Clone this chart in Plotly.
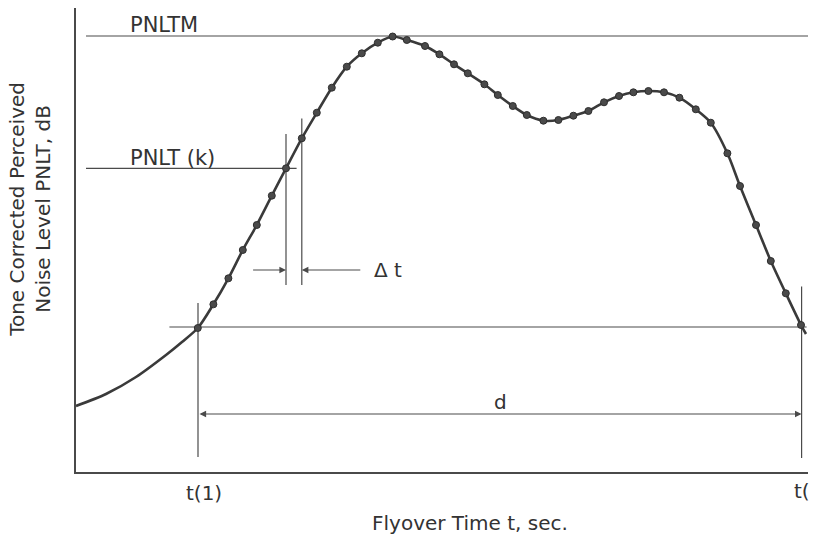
import plotly.graph_objects as go

# PNLT samples (flyover time s, PNLT dB)
t_samples = [6.09, 6.87, 7.62, 8.34, 9.04, 9.79, 10.5, 11.29, 12.04, 12.79,
             13.54, 14.29, 15.09, 15.83, 16.54, 17.45, 18.17, 18.9, 19.59, 20.42,
             21.09, 21.84, 22.54, 23.37, 24.12, 24.87, 25.62, 26.4, 27.15, 27.87,
             28.62, 29.4, 30.17, 30.99, 31.74, 32.57, 33.2, 34.0, 34.74, 35.49, 36.25]
pnlt_samples = [74.4, 76.77, 79.37, 82.2, 84.7, 87.63, 90.37, 93.37, 95.93, 98.43,
                100.53, 101.87, 102.93, 103.55, 103.2, 102.6, 101.77, 100.77, 99.87, 98.77,
                97.7, 96.6, 95.7, 95.13, 95.2, 95.63, 96.1, 96.97, 97.6, 97.97,
                98.1, 97.97, 97.43, 96.27, 94.93, 91.87, 88.6, 84.7, 81.1, 77.87, 74.7]

# un-sampled lead-in and tail of the curve
t_lead = [0.0, 1.5, 3.0, 4.5, 5.3]
pnlt_lead = [66.6, 67.8, 69.5, 71.7, 73.0]
t_tail = [36.5]
pnlt_tail = [73.8]

# reference levels and times
PNLTM = 103.6
PNLT_K = 90.37
THRESHOLD = 74.5
T1 = 6.1
TK = 10.5
TK1 = 11.29
TN = 36.28
D_LEVEL = 65.8
DT_LEVEL = 80.2

X_RANGE = [0, 36.6]
Y_RANGE = [60, 106.4]

LINE = "#4a4a4a"
CURVE = "#3a3a3a"
TXT = "#333333"
FONT = "DejaVu Sans"

fig = go.Figure()

def seg(x, y, w=1.2, c=LINE):
    fig.add_trace(go.Scatter(x=x, y=y, mode="lines", line=dict(color=c, width=w),
                             hoverinfo="skip", showlegend=False))

# reference lines
seg([0.5, X_RANGE[1]], [PNLTM, PNLTM])
seg([0.5, 11.03], [PNLT_K, PNLT_K])
seg([4.67, 36.53], [THRESHOLD, THRESHOLD])
seg([T1, T1], [76.9, 61.5])
seg([TK, TK], [93.8, 78.7])
seg([TK1, TK1], [95.35, 78.7])
seg([TN, TN], [78.55, 61.4])

# curve
fig.add_trace(go.Scatter(x=t_lead + t_samples + t_tail,
                         y=pnlt_lead + pnlt_samples + pnlt_tail,
                         mode="lines", line=dict(color=CURVE, width=2.6, shape="spline", smoothing=0.8),
                         hoverinfo="skip", showlegend=False))
fig.add_trace(go.Scatter(x=t_samples, y=pnlt_samples, mode="markers",
                         marker=dict(size=7, color="#4a4a4a", line=dict(color="#2e2e2e", width=1)),
                         hoverinfo="skip", showlegend=False))

ann = []
# arrows
arrow = dict(showarrow=True, arrowhead=2, arrowsize=1.1, arrowwidth=1.2, arrowcolor=LINE,
             axref="x", ayref="y", text="", standoff=0, startstandoff=0)
ann.append(dict(x=TK, y=DT_LEVEL, ax=8.78, ay=DT_LEVEL, **arrow))
ann.append(dict(x=TK1, y=DT_LEVEL, ax=14.29, ay=DT_LEVEL, **arrow))
ann.append(dict(x=TN, y=D_LEVEL, ax=T1, ay=D_LEVEL, arrowside="end+start", **arrow))

tf = dict(family=FONT, size=20, color=TXT)
lf = dict(family=FONT, size=21, color=TXT)
ann.append(dict(x=2.6, y=104.7, text="PNLTM", showarrow=False, xanchor="left", yanchor="middle", font=lf))
ann.append(dict(x=2.6, y=91.4, text="PNLT (k)", showarrow=False, xanchor="left", yanchor="middle", font=lf))
ann.append(dict(x=14.8, y=DT_LEVEL, text="Δ t", showarrow=False, xanchor="left", yanchor="middle", font=tf))
ann.append(dict(x=21.2, y=67.0, text="d", showarrow=False, xanchor="center", yanchor="middle", font=tf))
ann.append(dict(x=T1 + 0.3, y=-0.045, xref="x", yref="paper", text="t(1)", showarrow=False,
                xanchor="center", yanchor="middle", font=tf))
ann.append(dict(x=TN, y=-0.04, xref="x", yref="paper", text="t(", showarrow=False,
                xanchor="center", yanchor="middle", font=tf))
ann.append(dict(x=0.538, y=-0.11, xref="paper", yref="paper", text="Flyover Time t, sec.",
                showarrow=False, xanchor="center", yanchor="middle", font=tf))
ann.append(dict(x=-0.0628, y=0.565, xref="paper", yref="paper",
                text="Tone Corrected Perceived<br>Noise Level PNLT, dB", textangle=-90,
                showarrow=False, xanchor="center", yanchor="middle", font=tf))

fig.update_layout(
    width=814, height=534,
    margin=dict(l=76, r=6, t=8, b=62),
    paper_bgcolor="white", plot_bgcolor="white",
    annotations=ann,
    xaxis=dict(range=X_RANGE, showline=True, linecolor=LINE, linewidth=1.6, showgrid=False,
               zeroline=False, showticklabels=False, ticks=""),
    yaxis=dict(range=Y_RANGE, showline=True, linecolor=LINE, linewidth=1.6, showgrid=False,
               zeroline=False, showticklabels=False, ticks=""),
)

fig.write_html("out.html", config={"displayModeBar": False},
               post_script="document.body.style.margin='0px';")
